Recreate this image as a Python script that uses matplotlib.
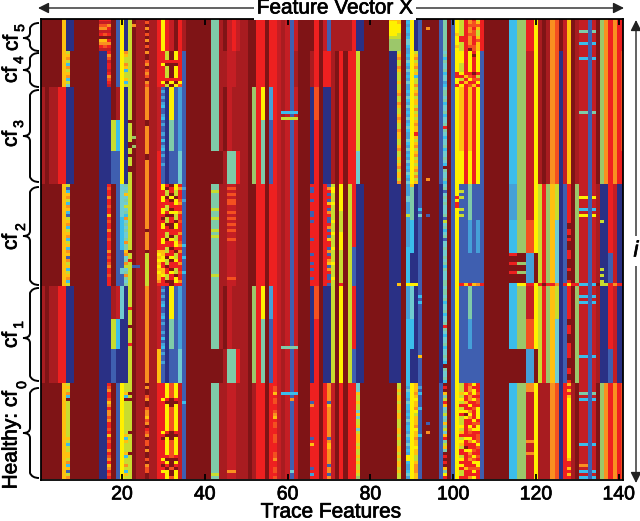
import matplotlib
matplotlib.use('Agg')
import matplotlib.pyplot as plt
import matplotlib.patheffects as pe
from matplotlib.colors import ListedColormap
from matplotlib.path import Path
from matplotlib.patches import PathPatch, FancyArrowPatch
from matplotlib.transforms import Affine2D
import numpy as np

plt.rcParams['font.family'] = ['Liberation Sans', 'DejaVu Sans']

# colour letters, navy -> dark red (roughly a jet colormap)
letters = 'nuhkatmlygosrcbd'
colors = ['#2A3085', '#3F5FB0', '#45A0D8', '#3BBDEB', '#70CCD0', '#7FCBA8', '#9CC76A',
          '#C8DC30', '#FFF000', '#FFC010', '#F99020', '#F45020', '#EE2020', '#C41E24',
          '#A81C20', '#7F1416']

xticks = [20, 40, 60, 80, 100, 120, 140]
n_rows = 153

# bands: first row, last row (excl), one letter per feature
bands = [
 (0, 11, 'dddddgnndd ddddoorduy nldbbsbbry rcdrbddddd dttbdcrcbb ddrrdrrcbc ucddddrdcu bbbbbrnndd ddddyyydhy nuddddutdu ylrosgrddd dddkkmmrry bdbosdcgdb ccucdmoror r'),
 (11, 23, 'dddddglddd ddddnnrduy lldbbobbrr ldyruddddd dttbbccbbb ddrrdrrcbc ubdddbrdrr bdrdrrlddd ddddnngdhy luddddutdu yyryryuddd dddkkmmccy bdbosncgdb ccucdmoror s'),
 (23, 34, 'bdbbrrnndd ddddnnndby nldbbobbcu nyuhuddddd dttbdcbbbb dmrydhrcbc ucdddnsdnn bdrdrrlddd ddddnnldhy luddddutdu ygrgryuddd dddkkmmccy bdbosncgdb ccucdmoror s'),
 (34, 44, 'bdbbrrnndd ddddnnnlky nldbbobbcu ntuhuddddd dttbdcbbbb dmrtdurcbc ucdddnrdnn bdrdrrlddd ddddnnldhy luddddutdu ygrgryuddd dddkkmmccy bdbosncgdb ccucdmoror s'),
 (44, 55, 'bdbbrrnndd ddddnnnuuy nldbbobbrn nuuauddddd ddddbttrbb dmrtdurcbc ucdddnrdnn bdrdrraddd ddddnnldhy luddddutdu yyryryuddd dddkkmmccy bdbosncgdb ccucdmoror r'),
 (55, 78, 'dddddgoddd ddddnnrdua aldbbobbry yryruddddd dttbbccbbb ddrrdrrcbc ucdddurdru ldydlrnndd ddddnnndha nuddddntdu yuutuuuddd dddkkmmssy lrmglnurdm ccucbnnrcn n'),
 (78, 89, 'dddddgoddd ddddnnrduu aldbbobbgy yryruddddd dttbbccbbb ddrrdrrcbc ucdddurdru ldydlunndd ddddnnndkn nuddddntdu yuuuuuuddd dddddddhhd lrmganurdm ccucbnnucn n'),
 (89, 100, 'bdbbrrnndd ddddnnnbca nldbbobbcu nyuhuddddd dttbdcbbbb dmrydhrcbc ucdddnsdnn ldydlrnndd ddddnnndha nuddddntdu yuutuuuddd dddkkmmccy lrmglnurdm ccucbnnrcn n'),
 (100, 110, 'bdbbrrnndd ddddnnnlkn nldbbobbcu ntuhuddddd dttbdcbbbb dmrtdurcbc ucdddnrdnn ldydlrnndd ddddnnndkk nuddddntdu yuuhuuuddd dddkkmmssy lrmganurdm ccucbnnrcn n'),
 (110, 121, 'bdbbrrnndd ddddnnnunn nldbbobbgn nuuauddddd ddddbttrbb dmrtdurcbc ucdddnrdnn ldydlunndd ddddnnndkn nuddddntdu yuuuuuuddd dddddddhhd lrmganurdm ccucbnnucn n'),
 (121, 153, 'dddddglddd ddddnnrduy lldbbobbrs yrycuddddd dttbbccbbb dbrrdrscbc ucdddrrdro cdrdrraddd ddddddldky luddddutdu yyrsyruddd dddkkmmccy bbbosnrgbd ccucdmoror s'),
]

# vertical overrides: feature, first row, letters per row read down the picture
col_over = [
 # cf5
 (15, 0, 'rcsocrdgorc'), (16, 0, 'rcsocsdgosc'), (17, 0, 'rcorcrdrorc'), (23, 0, 'ddodddddddd'),
 (26, 0, 'dsdodsdodsd'), (85, 0, 'gyyyyylmmmm'), (86, 0, 'gyyyyylmmmm'), (87, 0, 'ggyyyllmmmm'),
 (89, 0, 'hkhkkhkaakh'), (101, 0, 'yyyyygyyygy'), (102, 0, 'llllllrrlll'), (104, 0, 'oosoosooosd'),
 (105, 0, 'rssrssrrrss'), (106, 0, 'lgsgllgsggg'),
 # cf4
 (7, 11, 'lgolkolgokla'), (21, 11, 'ogllogkllgkl'), (26, 11, 'oddsodsosdos'), (17, 11, 'roscrrcrosrc'),
 (30, 11, 'rrrryrrrrryr'), (31, 11, 'lllrdllllrdl'), (32, 11, 'dddrdddddryd'), (33, 11, 'yyyrdyyyyrdy'),
 (34, 11, 'rrrrrrrrrrys'), (101, 11, 'yyyyyyyrryyr'), (102, 11, 'yyyylllyrlry'), (103, 11, 'rrrrrrrrgrgr'),
 (104, 11, 'yyyyyyyrsyrs'), (105, 11, 'rdrrrrrdrsrg'), (106, 11, 'yyyyyyyrlsyr'), (89, 11, 'hkhakhahkhah'),
 (98, 11, 'atktaatkaahk'), (91, 11, 'lgolgolgkllo'), (87, 11, 'lgolloglllgl'),
 # cf3
 (89, 23, 'hkhakhahkhahkakhhakhahkhahkhakha'), (87, 23, 'lgollogllgoglloggllgollglgolgglo'),
 (91, 23, 'lgolgglolglgoggrglgolgolglgololg'), (98, 23, 'attatkaatkaatrtakaatkaatakdtaatk'),
 (30, 23, 'uhuhuhkuuhkuhuuhukuhkuhuuhuuuuuu'), (26, 23, 'oooooooooooddoooooooooddooooooooo'),
 (22, 23, 'llllllllllldllllllddlldlllddllll'),
 # cf2
 (7, 55, 'lukgolkogkulgoklgoklgkoguolgklgokl'), (21, 55, 'tatgatalatkoatataatottgoatolatotat'),
 (17, 55, 'rsrrorrsrrgrsrrorrsrrrorsrsorrsrrr'), (20, 55, 'aaaaaaaaaaakkkkkkkkkkkuuuuuuaauuuu'),
 (26, 55, 'ooooooooooooooodoooooodlllllllllll'), (29, 55, 'rrrrrrrrrrrrrrrrrrrrrrgygygygyggor'),
 (30, 55, 'yyrryyrryyrdryyrrryyrrggyyrrggyrrr'), (31, 55, 'rdlldrrllrdlldrrlldrrllrdlldrrlldr'),
 (32, 55, 'drrdydrrdydrrddrrdyrrdrrydrrdyrrdd'), (33, 55, 'yylldyyrrylldyyrrllyyrdllyrrlldyyr'),
 (34, 55, 'rorrrsorrorrsrrrorrsororrrorrsrror'), (35, 55, 'uhuuuhuuuuuuuuuuuuuukuuukuuuukuuuu'),
 (66, 55, 'ruurrurrruururrrrrurrrrurrururrurr'), (70, 55, 'uorurugruoruurourugrruouroguoruuru'),
 (71, 55, 'lyylllylllllylllyllllyllllyllllyll'), (73, 55, 'yyyyyyyyylllllllyyyyyylllllllllllr'),
 (89, 55, 'hhhhaahhhhlhhhhhhhhhhkkkkkkkkkkkkk'), (90, 55, 'gtttttttttttkkkkkkkkkkknnnnnnnnnnn'),
 (98, 55, 'atuatataaatulatkatuaataatatktaaatt'), (101, 55, 'yyyyryrryyyyyyyyyyyyyyyyyyyyyyyyyd'),
 (104, 55, 'tttttttttttthhhhhhhhhhhuuuuuuuuuuu'), (106, 55, 'uuuuuuuuuuuuhhhhhhhhhhhuuuuuuuuuuu'),
 (114, 55, 'hhhhhhhhhhhhkkkkkkkkkkkddddddddddd'), (115, 55, 'hhhhhhhhhhhhkkkkkkkkkkkddddddddddd'),
 (116, 55, 'mmmmmmmmmmmmmmmmmmmmmmmddddddddddd'), (117, 55, 'mmmmmmmmmmmmmmmmmmmmmmmddddddddddd'),
 (118, 55, 'ccccccccccccssssssssssshhhhhhhhhhh'), (119, 55, 'ccccccccccccssssssssssshhhhhhhhhhh'),
 (120, 55, 'yyyyyyyyyyyyyyyyyyyyyyyddddddddddd'), (125, 55, 'llllllllllllaaaaaaaaaaaaaaaaaaaaaa'),
 (128, 55, 'rrrrrrrrrrrrrddrrdrdddrrrdddrdddrr'), (138, 55, 'rrrrrrrrrrrrrrrrrrrrrrruuuuuuuuuuu'),
 (76, 55, 'rrrrrrrrrrrrrrrrrrrrruuuuuuuuuuuuu'),
 # cf1
 (89, 89, 'hhhhhhhhhhhkkkkkkkkkkkkkkkkkkkkk'), (90, 89, 'aaaaaaaaaaakkkkkkkkkknnnnnnnnnnn'),
 (98, 89, 'attatkaatkaatrtakaatkaatakdtaatk'), (128, 89, 'rrrrrrrrrrrddrrrdddrrrrrdddrrddr'),
 (30, 89, 'uhuhuhkuuhkuhuuhukuhkuhuuhuuuuuu'),
 # cf0
 (7, 121, 'lglokdllllllllllllglkllgglokgulo'), (21, 121, 'lllgkdlllllllllllgkglllgkllolkgl'),
 (17, 121, 'rsorrsgoroosorrsrgrsrrorsorgorsr'), (26, 121, 'doddsoddsoogsodrsodssdoddsdossdd'),
 (30, 121, 'rrrrryrrrrrrrrrryrdrrrrrryrdryrr'), (31, 121, 'yyyyyrdyyyyyyyyyrdyyyyyyrdyrdyyy'),
 (32, 121, 'sssssdddssssssssdddssssssdddsdds'), (33, 121, 'yyyyyrdyyyyyyyyyrdyyyyyyrdyrdyyy'),
 (57, 121, 'rssgrssrrsogrssrrsssrrrssorrssrs'), (77, 121, 'aaagllgllagallgalggglgllglgllglm'),
 (87, 121, 'llglgglgglgglllgglgllgglglgglgll'), (89, 121, 'khakkhakkhkhahkkhakhahkhyykhhkah'),
 (91, 121, 'gggogyggoylgggoyggoggyggllgooogg'), (92, 121, 'uhukuuuukuuuuuuuukuuuuuuuuuuuuuu'),
 (98, 121, 'drdgtlrgatlatgtlagrtlgtdrdrdgtyr'), (102, 121, 'lllglylrlyrlllylgrlyglrrlyryrllr'),
 (103, 121, 'rrryrrgrrydyrrrrrryrrdyrrrrrgrrr'), (104, 121, 'soosooryroyorryosryorryosorrsrro'),
 (105, 121, 'yryyryrrsrrrysryrrryrrsrysyrsyry'), (106, 121, 'rrrsrssryyyyrsyyrsssysrrsryysrrr'),
 (128, 121, 'grgrgyyyyyyyyyyyyyyyyyyyygrrgrgr'),
]

# horizontal overrides: row, first feature, letters across
row_over = [
 (3, 94, 'o'), (4, 131, 'tt'), (4, 134, 't'), (8, 131, 'kk'), (8, 134, 'k'), (13, 131, 'kk'), (13, 134, 'k'),
 (31, 59, 'kkkk'), (33, 59, 'llll'), (31, 131, 'tt'), (31, 134, 't'), (39, 23, 'm'), (42, 23, 'm'),
 (53, 94, 'o'), (57, 42, 'll'), (63, 42, 'll'), (66, 42, 'll'), (70, 42, 'll'), (72, 42, 'll'), (85, 42, 'll'),
 (77, 22, 'd'), (80, 22, 'r'), (82, 23, 'uu'), (56, 46, 'ss'), (58, 46, 'ss'), (60, 46, 'ss'), (61, 46, 'ss'),
 (64, 46, 'ss'), (66, 46, 'ss'), (68, 46, 'ss'), (70, 46, 'ss'), (73, 46, 'ss'), (86, 46, 'ss'),
 (59, 131, 'yy'), (59, 134, 'y'), (63, 131, 'kk'), (63, 134, 'k'), (65, 131, 'yy'), (65, 134, 'y'),
 (57, 102, 'l'), (59, 102, 'l'), (63, 102, 'l'), (65, 102, 'l'), (63, 92, 'k'), (65, 92, 'a'), (65, 94, 'u'),
 (78, 114, 'rr'), (81, 114, 'rr'), (81, 116, 'mm'), (84, 114, 'rr'), (84, 116, 'mm'),
 (67, 136, 'l'), (83, 136, 'l'), (85, 136, 'l'), (87, 136, 'l'),
 (88, 87, 'g'), (88, 89, 'yyy'),
 (88, 101, 'yrgrgordddddd' + 'kkyy' + 'rry' + 'rdrro' + 'nry' + 'rr' + 'kkuk' + 'd' + 'll' + 'rorr'),
 (92, 92, 'k'), (94, 92, 'k'), (112, 92, 'g'), (96, 22, 'r'), (102, 22, 'd'), (108, 22, 'r'),
 (109, 59, 'tttt'), (112, 131, 'kk'), (112, 134, 'k'), (92, 131, 'kk'), (92, 134, 'k'), (94, 131, 'kk'), (94, 134, 'k'),
 (124, 22, 'd'), (126, 22, 'd'), (137, 22, 'd'), (144, 22, 'd'), (127, 35, 'k'), (151, 42, 'll'),
 (150, 46, 'oo'), (124, 59, 'kkkk'), (126, 61, 'o'), (150, 61, 'a'),
 (127, 66, 'u'), (128, 66, 'o'), (139, 66, 'u'), (141, 66, 'g'), (149, 66, 'u'), (151, 66, 'h'),
 (124, 70, 'o'), (127, 70, 'u'), (128, 70, 'g'), (139, 70, 'u'), (141, 70, 'g'), (142, 70, 'g'), (148, 70, 'u'), (149, 70, 'o'), (151, 70, 'u'),
 (134, 94, 'u'), (137, 94, 'o'), (121, 118, 'oo'), (122, 118, 'oo'), (123, 118, 'oo'), (140, 118, 'oo'), (144, 118, 'oo'),
 (124, 131, 'tt'), (124, 134, 't'), (126, 131, 'kk'), (126, 134, 'k'), (141, 131, 'kk'), (141, 134, 'k'),
 (148, 131, 'oo'), (150, 131, 'kk'), (150, 134, 'k'), (152, 131, 'kk'), (152, 134, 'k'),
]

matrix = np.zeros((n_rows, 141), dtype=int)
for r0, r1, s in bands:
    s = s.replace(' ', '')
    if len(s) != 141:
        print('band', r0, len(s))
    s = (s + 'd' * 141)[:141]
    matrix[r0:r1] = [letters.index(ch) for ch in s]
for col, r0, s in col_over:
    for i, ch in enumerate(s):
        matrix[r0 + i, col - 1] = letters.index(ch)
for row, c0, s in row_over:
    for i, ch in enumerate(s):
        matrix[row, c0 - 1 + i] = letters.index(ch)

W, H = 640, 521
fig = plt.figure(figsize=(W / 100, H / 100), dpi=100)
ax = fig.add_axes([41.3 / W, 1 - 479.5 / H, 581.7 / W, 460.5 / H])
ax.imshow(matrix, cmap=ListedColormap(colors), vmin=-0.5, vmax=15.5, aspect='auto',
          interpolation='nearest', extent=(0.5, 141.5, n_rows, 0))
ax.set_xlim(0.5, 141)
ax.set_ylim(n_rows, 0)
ax.set_yticks([])
ax.set_xticks(xticks)
ax.tick_params(axis='x', direction='in', top=True, length=4, width=1.3, labelsize=14, pad=5)
for sp in ax.spines.values():
    sp.set_linewidth(1.3)
thick = [pe.withStroke(linewidth=0.5, foreground='black')]
for t in ax.get_xticklabels():
    t.set_path_effects(thick)


# everything below is placed in pixels, y going down like in the picture
px = Affine2D().scale(1 / W, -1 / H).translate(0, 1) + fig.transFigure


def label(x, y, s, size=15, rot=0, **kw):
    fig.text(x, y, s, transform=px, fontsize=size, rotation=rot, ha='center', va='center',
             path_effects=thick, **kw)


def brace(y0, y1, ym, x=30, tip=39, cusp=23):
    r = 5
    verts = [(tip, y0), (x + 2, y0), (x, y0 + r), (x, ym - r), (x, ym), (cusp, ym),
             (x, ym), (x, ym + r), (x, y1 - r), (x, y1 - r), (x + 2, y1), (tip, y1)]
    codes = [Path.MOVETO, Path.CURVE3, Path.CURVE3, Path.LINETO, Path.CURVE3, Path.CURVE3,
             Path.CURVE3, Path.CURVE3, Path.LINETO, Path.LINETO, Path.CURVE3, Path.CURVE3]
    fig.add_artist(PathPatch(Path(verts, codes), transform=px, fc='none', ec='black', lw=1.4))


brace(23, 51, 38)
brace(53, 87, 70)
brace(90, 182, 136)
brace(187, 285, 236)
brace(288, 381, 338)
brace(388, 478, 433)

for x, y in [(12, 43), (11, 75), (11, 139), (11, 242), (11, 340)]:
    label(x, y, 'cf', rot=90)
for x, y, s in [(20, 28, '5'), (19, 60, '4'), (19, 124, '3'), (21, 227, '2'), (19, 325, '1'), (22, 385, '0')]:
    label(x, y, s, size=10, rot=90)
label(11, 440, 'Healthy: cf', rot=90)

label(331, 512, 'Trace Features')

# top and right arrows
arrow = dict(arrowstyle='<|-|>', color='#222222', lw=1, mutation_scale=16, shrinkA=0, shrinkB=0)
fig.add_artist(FancyArrowPatch((38, 8), (624, 8), transform=px, **arrow))
fig.add_artist(FancyArrowPatch((636, 20), (636, 483), transform=px, **arrow))
fig.text(335, 8, 'Feature Vector X', transform=px, fontsize=15, ha='center', va='center', path_effects=thick,
         bbox=dict(fc='white', ec='none', pad=2), zorder=5)
fig.text(636, 251, 'i', transform=px, fontsize=16, style='italic', ha='center', va='center', path_effects=thick,
         bbox=dict(fc='white', ec='none', pad=3), zorder=5)

fig.savefig('out.png', dpi=100)
